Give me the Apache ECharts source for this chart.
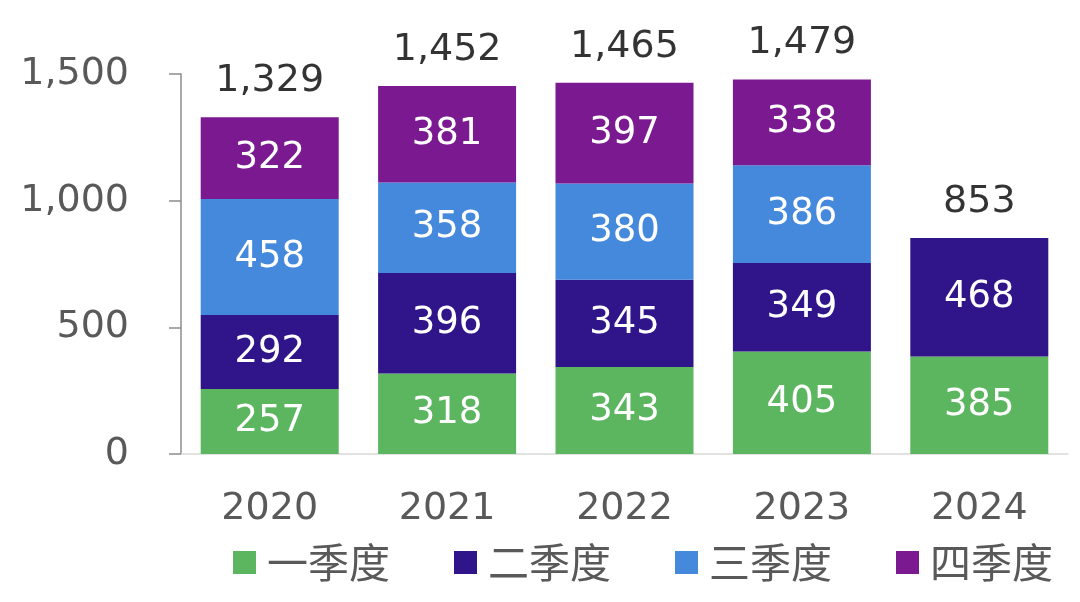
<!DOCTYPE html>
<html><head><meta charset="utf-8">
<script src="https://cdn.jsdelivr.net/npm/echarts@6/dist/echarts.min.js"></script>
<style>html,body{margin:0;padding:0;background:#fff}#c{width:1080px;height:602px}</style>
</head><body><div id="c"></div>
<script>
const categories = ['2020','2021','2022','2023','2024'];
const seriesNames = ['一季度','二季度','三季度','四季度'];
const q1 = [257, 318, 343, 405, 385];
const q2 = [292, 396, 345, 349, 468];
const q3 = [458, 358, 380, 386, null];
const q4 = [322, 381, 397, 338, null];
const totals = [1329, 1452, 1465, 1479, 853];
const yTicks = [0, 500, 1000, 1500];

const colors = ['#5CB660', '#30148A', '#4589DC', '#7B1991'];
const fontFamily = 'DejaVu Sans, Verdana, sans-serif';
const fmt = v => v.toLocaleString('en-US');

const chart = echarts.init(document.getElementById('c'), null, {renderer: 'canvas'});
const mk = (name, data, i) => ({
  name, type: 'bar', stack: 'total', data,
  barWidth: 138,
  itemStyle: {color: colors[i]},
  label: {show: true, position: 'inside', color: '#fff', fontSize: 37, fontFamily,
    formatter: p => p.value == null ? '' : fmt(p.value)},
  emphasis: {disabled: true}
});
chart.setOption({
  animation: false,
  color: colors,
  grid: {left: 181, right: 12, top: 74, bottom: 148},
  legend: {
    data: seriesNames, bottom: 14, left: 228, icon: 'rect',
    itemWidth: 23, itemHeight: 23, itemGap: 64,
    textStyle: {fontSize: 41, color: '#595959', fontFamily: 'Noto Sans CJK SC, sans-serif', padding: [0,0,0,6]}
  },
  xAxis: {
    type: 'category', data: categories,
    axisLine: {lineStyle: {color: '#d9d9d9', width: 1.5}},
    axisTick: {show: false},
    axisLabel: {fontSize: 38, color: '#595959', fontFamily, margin: 36}
  },
  yAxis: {
    type: 'value', min: yTicks[0], max: yTicks[yTicks.length-1], interval: 500,
    axisLine: {show: true, lineStyle: {color: '#8c8c8c', width: 1.5}},
    axisTick: {show: true, inside: false, length: 12, lineStyle: {color: '#8c8c8c', width: 1.5}},
    splitLine: {show: false},
    axisLabel: {fontSize: 38, color: '#595959', fontFamily, margin: 52, formatter: v => fmt(v)}
  },
  series: [
    mk(seriesNames[0], q1, 0),
    mk(seriesNames[1], q2, 1),
    mk(seriesNames[2], q3, 2),
    mk(seriesNames[3], q4, 3),
    {
      name: 'total', type: 'scatter', data: totals, symbolSize: 2,
      itemStyle: {color: 'rgba(0,0,0,0)'}, silent: true, z: 10,
      label: {show: true, position: 'top', distance: 16, color: '#000', fontSize: 38, fontFamily,
        formatter: p => fmt(p.value)}
    }
  ]
});
</script></body></html>
